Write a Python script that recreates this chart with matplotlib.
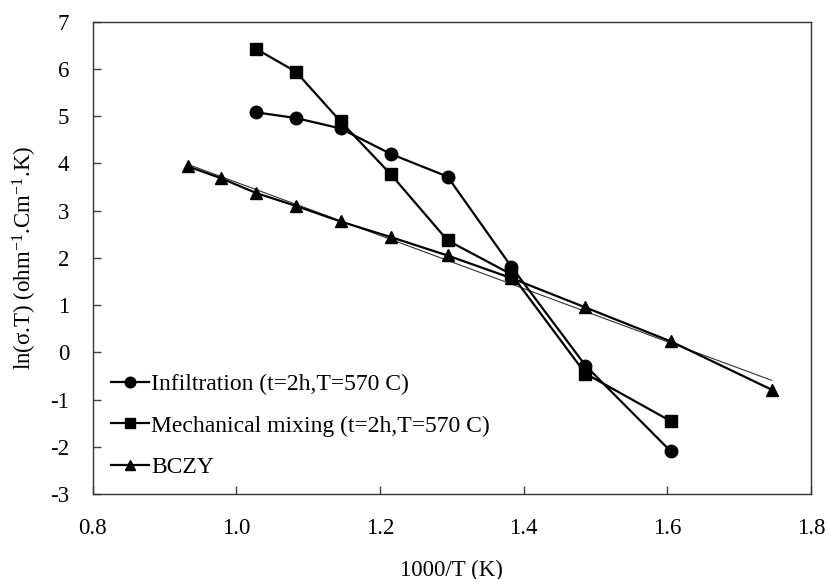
import numpy as np
import matplotlib
matplotlib.use("Agg")
import matplotlib.pyplot as plt

plt.rcParams['font.family'] = ['Liberation Serif', 'DejaVu Serif']
plt.rcParams['mathtext.fontset'] = 'custom'
plt.rcParams['mathtext.rm'] = 'Liberation Serif'
plt.rcParams['mathtext.it'] = 'Liberation Serif:italic'

# 1000/T values (K^-1 * 1000)
x_bczy = [0.932, 0.978, 1.028, 1.083, 1.145, 1.215, 1.294, 1.383, 1.486, 1.605, 1.745]
y_bczy = [3.94, 3.69, 3.37, 3.10, 2.77, 2.44, 2.05, 1.57, 0.95, 0.23, -0.79]

x_comp = [1.028, 1.083, 1.145, 1.215, 1.294, 1.383, 1.486, 1.605]
y_infil = [5.08, 4.96, 4.74, 4.20, 3.72, 1.81, -0.28, -2.10]
y_mech = [6.42, 5.94, 4.89, 3.77, 2.37, 1.65, -0.45, -1.46]

labels = ["Infiltration (t=2h,T=570 C)",
          "Mechanical mixing (t=2h,T=570 C)",
          "BCZY"]

xticks = [0.8, 1.0, 1.2, 1.4, 1.6, 1.8]
yticks = [-3, -2, -1, 0, 1, 2, 3, 4, 5, 6, 7]

fig = plt.figure(figsize=(8.29, 5.79), dpi=100)
ax = fig.add_axes([0.1118, 0.1468, 0.8665, 0.8157])

# linear trendline for BCZY
coef = np.polyfit(x_bczy, y_bczy, 1)
xt = np.array([x_bczy[0], x_bczy[-1]])
ax.plot(xt, np.polyval(coef, xt), color='#333333', lw=0.8, zorder=2)

ax.plot(x_comp, y_infil, '-o', color='black', lw=1.6, ms=9, label=labels[0], zorder=3)
ax.plot(x_comp, y_mech, '-s', color='black', lw=1.6, ms=8, label=labels[1], zorder=3)
ax.plot(x_bczy, y_bczy, '-^', color='black', lw=1.6, ms=9, label=labels[2], zorder=3)

ax.set_xlim(0.8, 1.8)
ax.set_ylim(-3, 7)
ax.set_xticks(xticks)
ax.set_yticks(yticks)
ax.set_xticklabels([f"{v:.1f}" for v in xticks])
ax.set_yticklabels([str(v) for v in yticks])
ax.tick_params(direction='in', length=6, width=1, colors='#404040', labelcolor='black',
               labelsize=16.5, top=False, right=False)
ax.tick_params(axis='x', pad=17)
ax.tick_params(axis='y', pad=17)
for s in ax.spines.values():
    s.set_color('#333333')
    s.set_linewidth(1.0)

ax.set_xlabel("1000/T (K)", fontsize=16.5, labelpad=15)
ax.set_ylabel(r"ln(σ.T) (ohm$^{\mathregular{-1}}$.Cm$^{\mathregular{-1}}$.K)", fontsize=16.5, labelpad=8)

leg = ax.legend(loc='lower left', bbox_to_anchor=(0.026, 0.034), frameon=False, fontsize=17,
                handlelength=1.6, handletextpad=0.1, labelspacing=0.84, borderaxespad=0,
                borderpad=0, markerscale=0.85)

fig.savefig("out.png", dpi=100)
